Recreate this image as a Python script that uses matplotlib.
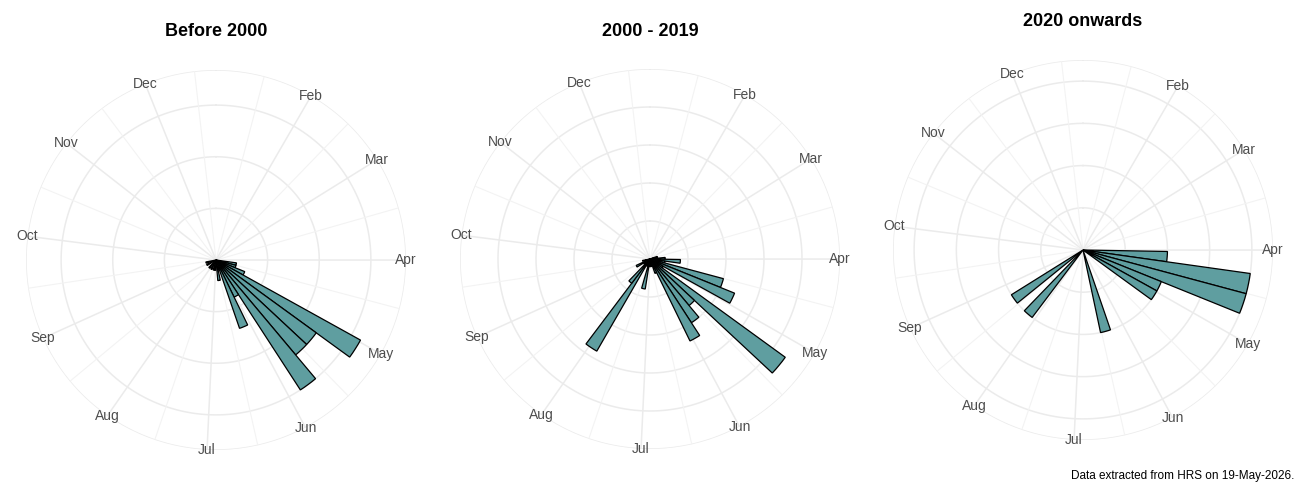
import numpy as np
import matplotlib
matplotlib.use("Agg")
import matplotlib.pyplot as plt

# ---- data ----
titles = ["Before 2000", "2000 - 2019", "2020 onwards"]
month_labels = ["Feb", "Mar", "Apr", "May", "Jun", "Jul", "Aug", "Sep", "Oct", "Nov", "Dec"]
month_weeks = [4.3, 8.3, 12.86, 17.1, 21.7, 26.1, 30.7, 35.1, 39.6, 44.0, 48.3]

weeks_p1 = [14, 15, 16, 17, 18, 19, 20, 21, 22, 23, 24, 26, 27, 29, 31, 34, 36]
counts_p1 = [2, 2, 3, 16, 12, 12, 15, 4, 7, 1, 2, 1, 1, 1, 1, 1, 1]

weeks_p2 = [10, 11, 12, 13, 14, 15, 16, 17, 18, 19, 20, 21, 22, 23, 24, 25, 26, 27, 28, 29, 30, 31, 32, 33, 34, 36]
counts_p2 = [1, 1, 2, 4, 2, 10, 12, 2, 22, 8, 10, 12, 2, 1, 1, 1, 1, 4, 1, 1, 14, 4, 1, 1, 2, 1]

weeks_p3 = [13, 14, 15, 16, 17, 23, 31, 33]
counts_p3 = [1, 2, 2, 1, 1, 1, 1, 1]

breaks = [[5, 10, 15], [5, 10, 15, 20], [0.5, 1.0, 1.5, 2.0]]
rmaxs = [18.4, 25.0, 2.25]
caption = "Data extracted from HRS on 19-May-2026."

# ---- layout ----
W, H = 1300, 500
centers = [(216, 260), (650, 259), (1083, 250)]
R = 190
title_y = [32, 32, 22]
deg_per_week = 7.0

fig = plt.figure(figsize=(13, 5), dpi=100)
grid_c = "#ebebeb"
data = [(weeks_p1, counts_p1), (weeks_p2, counts_p2), (weeks_p3, counts_p3)]

for i in range(3):
    cx, cy = centers[i]
    ax = fig.add_axes([(cx - R) / W, (H - cy - R) / H, 2 * R / W, 2 * R / H], projection="polar")
    ax.set_theta_zero_location("N")
    ax.set_theta_direction(-1)
    rmax = rmaxs[i]
    ax.set_ylim(0, rmax)
    ax.set_xticks([]); ax.set_yticks([])
    ax.grid(False)
    ax.spines["polar"].set_visible(False)
    ax.patch.set_alpha(0)
    th = np.linspace(0, 2 * np.pi, 400)
    for b in breaks[i] + [rmax]:
        ax.plot(th, np.full_like(th, b), color=grid_c, lw=1.1, zorder=0)
    mw = np.array(month_weeks)
    step = np.mean(np.diff(mw))
    minors = np.concatenate([(mw[:-1] + mw[1:]) / 2, [mw[0] - step / 2, mw[-1] + step / 2]])
    for m in minors:
        t = np.deg2rad(m * deg_per_week)
        ax.plot([t, t], [0, rmax], color="#f3f3f3", lw=0.8, zorder=0)
    for m in mw:
        t = np.deg2rad(m * deg_per_week)
        ax.plot([t, t], [0, rmax], color=grid_c, lw=1.1, zorder=0)
    wk, ct = data[i]
    theta = np.deg2rad((np.array(wk) + 0.5) * deg_per_week)
    ax.bar(theta, ct, width=np.deg2rad(deg_per_week), bottom=0, color="#5F9EA0",
           edgecolor="black", linewidth=0.9, zorder=3)
    for lab, m in zip(month_labels, mw):
        t = np.deg2rad(m * deg_per_week)
        ax.text(t, rmax * 1.0, lab, ha="center", va="center", fontsize=10,
                color="#4d4d4d", family="Liberation Sans", zorder=4)
    fig.text(cx / W, 1 - title_y[i] / H, titles[i], ha="center", va="center",
             fontsize=13, fontweight="bold", family="Liberation Sans")

fig.text(1294 / W, 1 - 476 / H, caption, ha="right", va="center", fontsize=8.5,
         family="Liberation Sans")
fig.savefig("out.png", dpi=100)
